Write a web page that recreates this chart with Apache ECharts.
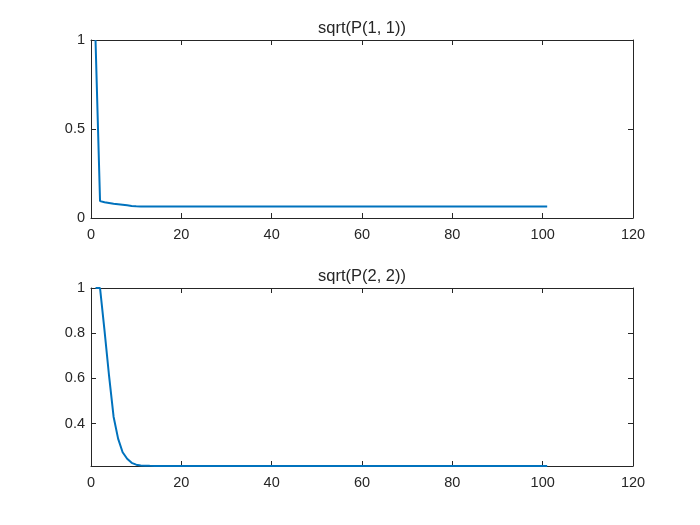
<!DOCTYPE html>
<html>
<head>
<meta charset="utf-8">
<script src="https://cdn.jsdelivr.net/npm/echarts@6/dist/echarts.min.js"></script>
<style>html,body{margin:0;padding:0;background:#fff}#c{width:700px;height:525px}</style>
</head>
<body>
<div id="c"></div>
<script>
// Data
const xs1 = [1, 2, 3, 4, 5, 6, 7, 8, 9, 10, 11, 12, 13, 14, 101];
const p11 = [1.0, 0.095, 0.088, 0.084, 0.080, 0.077, 0.074, 0.071, 0.068, 0.066, 0.065, 0.064, 0.064, 0.064, 0.064];
const xs2 = [1, 2, 3, 4, 5, 6, 7, 8, 9, 10, 11, 12, 13, 14, 101];
const p22 = [1.0, 1.0, 0.810, 0.611, 0.431, 0.334, 0.274, 0.245, 0.227, 0.219, 0.2155, 0.2143, 0.2136, 0.2132, 0.213];
const xTicks = [0, 20, 40, 60, 80, 100, 120];
const y1Ticks = [0, 0.5, 1];
const y2Ticks = [0.4, 0.6, 0.8, 1];
const titles = ['sqrt(P(1, 1))', 'sqrt(P(2, 2))'];

const FONT = '"Liberation Sans", Arial, Helvetica, sans-serif';
const INK = '#262626';
const LINE = '#0072BD';

const grids = [
  {left: 91, top: 40, width: 542, height: 178},
  {left: 91, top: 288, width: 542, height: 178}
];

function xAx(gi, pos, showLabel) {
  return {
    type: 'value', gridIndex: gi, position: pos,
    min: xTicks[0], max: xTicks[xTicks.length - 1], interval: 20,
    axisLine: {show: true, onZero: false, lineStyle: {color: INK, width: 1}},
    axisTick: {show: true, inside: true, length: 5, lineStyle: {color: INK}},
    axisLabel: {show: showLabel, margin: 9, color: INK, fontSize: 14.5, fontFamily: FONT},
    splitLine: {show: false}
  };
}
function yAx(gi, pos, showLabel, mn, mx, ticks) {
  return {
    type: 'value', gridIndex: gi, position: pos, min: mn, max: mx,
    axisLine: {show: true, onZero: false, lineStyle: {color: INK, width: 1}},
    axisTick: {show: true, inside: true, length: 5, customValues: ticks, lineStyle: {color: INK}},
    axisLabel: {show: showLabel, margin: 6, color: INK, fontSize: 14.5, fontFamily: FONT,
      customValues: ticks, formatter: v => String(+v.toFixed(4))},
    splitLine: {show: false}
  };
}

const chart = echarts.init(document.getElementById('c'), null, {renderer: 'canvas'});
chart.setOption({
  backgroundColor: '#fff',
  animation: false,
  grid: grids.map(g => Object.assign({outerBoundsMode: 'none', containLabel: false}, g)),
  xAxis: [xAx(0, 'bottom', true), xAx(0, 'top', false), xAx(1, 'bottom', true), xAx(1, 'top', false)],
  yAxis: [
    yAx(0, 'left', true, 0, 1, y1Ticks), yAx(0, 'right', false, 0, 1, y1Ticks),
    yAx(1, 'left', true, 0.213, 1, y2Ticks), yAx(1, 'right', false, 0.213, 1, y2Ticks)
  ],
  graphic: titles.map((t, i) => ({
    type: 'text', x: grids[i].left + grids[i].width / 2, y: grids[i].top - 11.5,
    style: {text: t, textAlign: 'center', textVerticalAlign: 'middle', fontSize: 16.5, fontFamily: FONT, fill: INK}
  })),
  series: [
    {type: 'line', xAxisIndex: 0, yAxisIndex: 0, data: xs1.map((x, i) => [x, p11[i]]),
     showSymbol: false, clip: false, lineStyle: {color: LINE, width: 2}, itemStyle: {color: LINE}},
    {type: 'line', xAxisIndex: 2, yAxisIndex: 2, data: xs2.map((x, i) => [x, p22[i]]),
     showSymbol: false, clip: false, lineStyle: {color: LINE, width: 2}, itemStyle: {color: LINE}}
  ]
});
</script>
</body>
</html>
